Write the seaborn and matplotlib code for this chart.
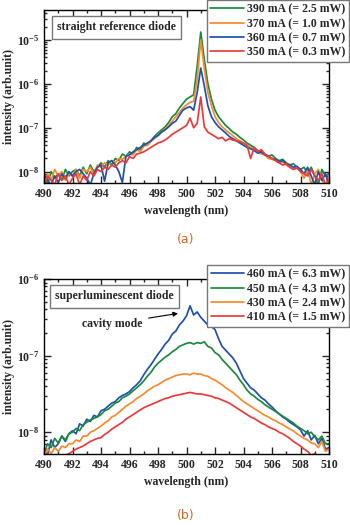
import numpy as np
import pandas as pd
import matplotlib
matplotlib.use("Agg")
import matplotlib.pyplot as plt
import seaborn as sns
from matplotlib.ticker import FuncFormatter, MultipleLocator, LogLocator

# wavelength grid (nm), 0.25 nm steps from 490 to 510
wavelength = np.arange(490.0, 510.001, 0.25)

# ---- panel (a): straight reference diode, log10(intensity)
a_labels = ["390 mA (= 2.5 mW)", "370 mA (= 1.0 mW)", "360 mA (= 0.7 mW)", "350 mA (= 0.3 mW)"]
a_390 = [-8.1, -8.3, -8.0, -8.15, -8.05, -8.2, -7.95, -8.1,
         -8.0, -7.95, -8.1, -7.9, -8.05, -7.85, -8.0, -7.9,
         -7.8, -7.9, -7.75, -7.85, -7.7, -7.75, -7.6, -7.65,
         -7.55, -7.6, -7.45, -7.5, -7.35, -7.4, -7.3, -7.2,
         -7.12, -7.05, -6.98, -6.88, -6.75, -6.68, -6.55, -6.45,
         -6.35, -6.3, -6.25, -5.6, -4.82, -5.45, -6.0, -6.35,
         -6.6, -6.75, -6.85, -6.95, -7.02, -7.1, -7.15, -7.22,
         -7.28, -7.35, -7.4, -7.45, -7.52, -7.55, -7.6, -7.65,
         -7.62, -7.7, -7.75, -7.72, -7.8, -7.85, -7.82, -7.9,
         -7.95, -7.9, -8.05, -7.9, -8.1, -8.3, -7.95, -8.1,
         -8.05]
a_370 = [-8.3, -8.05, -8.2, -7.95, -8.1, -8.0, -8.2, -8.05,
         -8.1, -7.95, -8.15, -7.95, -8.0, -7.9, -8.05, -7.85,
         -7.9, -7.8, -7.85, -7.75, -7.8, -7.7, -7.72, -7.65,
         -7.6, -7.62, -7.5, -7.55, -7.42, -7.4, -7.32, -7.25,
         -7.18, -7.1, -7.02, -6.95, -6.85, -6.75, -6.65, -6.55,
         -6.48, -6.42, -6.4, -5.9, -5.0, -5.65, -6.2, -6.5,
         -6.75, -6.88, -6.98, -7.05, -7.12, -7.18, -7.25, -7.3,
         -7.35, -7.4, -7.45, -7.5, -7.55, -7.6, -7.62, -7.7,
         -7.72, -7.75, -7.8, -7.78, -7.85, -7.9, -7.95, -7.9,
         -8.0, -8.15, -7.95, -8.3, -8.05, -7.95, -8.2, -8.3,
         -8.1]
a_360 = [-8.05, -8.2, -8.3, -8.1, -8.25, -8.05, -8.15, -8.0,
         -8.1, -8.0, -7.95, -8.05, -8.15, -8.3, -8.05, -7.9,
         -7.85, -8.22, -7.8, -7.75, -7.85, -8.0, -8.25, -7.65,
         -7.62, -7.55, -7.5, -7.45, -7.4, -7.35, -7.3, -7.22,
         -7.18, -7.1, -7.05, -6.98, -6.9, -6.85, -6.72, -6.6,
         -6.55, -6.52, -6.6, -6.2, -5.64, -6.05, -6.5, -6.75,
         -6.88, -6.98, -7.05, -7.12, -7.2, -7.25, -7.3, -7.35,
         -7.4, -7.45, -7.48, -7.52, -7.58, -7.55, -7.62, -7.65,
         -7.7, -7.72, -7.78, -7.75, -7.82, -7.85, -7.9, -7.88,
         -7.95, -8.05, -7.9, -8.1, -8.3, -8.0, -8.2, -8.05,
         -8.3]
a_350 = [-8.3, -8.1, -8.2, -8.3, -8.05, -8.2, -8.1, -8.3,
         -8.15, -8.05, -8.3, -8.1, -8.2, -8.0, -8.1, -7.95,
         -8.0, -7.9, -7.95, -7.85, -7.9, -7.8, -7.75, -7.8,
         -7.66, -7.7, -7.6, -7.58, -7.55, -7.5, -7.45, -7.4,
         -7.35, -7.32, -7.28, -7.22, -7.15, -7.1, -7.05, -7.0,
         -6.95, -6.78, -7.0, -6.9, -6.3, -6.98, -7.1, -7.15,
         -7.2, -7.25, -7.22, -7.3, -7.25, -7.28, -7.3, -7.32,
         -7.35, -7.4, -7.7, -7.45, -7.55, -7.5, -7.6, -7.65,
         -7.7, -7.75, -7.8, -7.85, -7.82, -7.9, -7.95, -7.92,
         -8.0, -8.05, -8.1, -7.95, -8.1, -8.2, -8.05, -8.3,
         -8.2]

# ---- panel (b): superluminescent diode
b_labels = ["460 mA (= 6.3 mW)", "450 mA (= 4.3 mW)", "430 mA (= 2.4 mW)", "410 mA (= 1.5 mW)"]
b_460 = [-8.22, -8.3, -8.1, -8.2, -8.15, -8.05, -8.12, -8.02,
         -7.98, -8.02, -7.89, -7.92, -7.83, -7.86, -7.78, -7.8,
         -7.72, -7.7, -7.66, -7.62, -7.6, -7.55, -7.52, -7.5,
         -7.47, -7.42, -7.38, -7.33, -7.25, -7.18, -7.12, -7.05,
         -6.98, -6.92, -6.85, -6.8, -6.72, -6.68, -6.6, -6.55,
         -6.48, -6.35, -6.47, -6.43, -6.5, -6.55, -6.6, -6.62,
         -6.66, -6.78, -6.88, -6.93, -6.98, -7.03, -7.1, -7.2,
         -7.3, -7.36, -7.42, -7.45, -7.5, -7.55, -7.58, -7.63,
         -7.67, -7.72, -7.76, -7.8, -7.83, -7.87, -7.9, -7.93,
         -7.97, -8.05, -7.98, -8.1, -8.04, -8.15, -8.08, -8.22,
         -8.2]
b_450 = [-8.28, -8.15, -8.2, -8.08, -8.14, -8.05, -8.1, -8.02,
         -8.0, -7.95, -7.98, -7.9, -7.87, -7.84, -7.82, -7.8,
         -7.77, -7.72, -7.7, -7.66, -7.62, -7.6, -7.55, -7.53,
         -7.5, -7.46, -7.42, -7.38, -7.33, -7.27, -7.22, -7.15,
         -7.1, -7.06, -7.02, -6.99, -6.95, -6.92, -6.88, -6.86,
         -6.84, -6.83, -6.85, -6.83, -6.84, -6.82, -6.88, -6.9,
         -6.96, -6.99, -7.05, -7.1, -7.15, -7.2, -7.25, -7.32,
         -7.38, -7.45, -7.5, -7.53, -7.57, -7.6, -7.64, -7.67,
         -7.7, -7.73, -7.76, -7.79, -7.82, -7.85, -7.88, -7.92,
         -7.95, -7.98, -8.02, -8.0, -8.06, -8.1, -8.05, -8.15,
         -8.15]
b_430 = [-8.32, -8.22, -8.28, -8.2, -8.25, -8.18, -8.2, -8.15,
         -8.15, -8.1, -8.12, -8.05, -8.05, -8.0, -7.98, -7.95,
         -7.92, -7.88, -7.85, -7.8, -7.78, -7.74, -7.7, -7.66,
         -7.63, -7.6, -7.56, -7.53, -7.5, -7.46, -7.43, -7.4,
         -7.38, -7.35, -7.32, -7.3, -7.28, -7.26, -7.25, -7.24,
         -7.24, -7.25, -7.23, -7.24, -7.24, -7.26, -7.27, -7.3,
         -7.32, -7.35, -7.38, -7.42, -7.45, -7.48, -7.52, -7.56,
         -7.6, -7.63, -7.66, -7.69, -7.72, -7.75, -7.78, -7.8,
         -7.83, -7.85, -7.88, -7.9, -7.93, -7.96, -7.98, -8.02,
         -8.05, -8.08, -8.1, -8.14, -8.15, -8.2, -8.12, -8.25,
         -8.22]
b_410 = [-8.4, -8.38, -8.35, -8.36, -8.35, -8.32, -8.3, -8.28,
         -8.25, -8.22, -8.2, -8.18, -8.15, -8.12, -8.1, -8.08,
         -8.07, -8.03, -8.0, -7.96, -7.93, -7.9, -7.87, -7.83,
         -7.8, -7.77, -7.74, -7.71, -7.68, -7.66, -7.64, -7.62,
         -7.6, -7.58, -7.56, -7.55, -7.53, -7.52, -7.51, -7.5,
         -7.49, -7.48, -7.49, -7.5, -7.5, -7.51, -7.52, -7.53,
         -7.55, -7.56, -7.58, -7.6, -7.62, -7.65, -7.68, -7.71,
         -7.74, -7.77, -7.8, -7.82, -7.85, -7.88, -7.9, -7.93,
         -7.95, -7.97, -8.0, -8.02, -8.05, -8.08, -8.12, -8.15,
         -8.18, -8.22, -8.25, -8.3, -8.28, -8.32, -8.3, -8.35,
         -8.35]

a_colors = ["#1b8a3c", "#f98a2c", "#2050b0", "#ec3a3a"]
b_colors = ["#2050b0", "#1b8a3c", "#f98a2c", "#ec3a3a"]

sns.set_style("ticks")
plt.rcParams["font.family"] = ["Liberation Serif", "DejaVu Serif"]
plt.rcParams["font.weight"] = "bold"
plt.rcParams["mathtext.fontset"] = "custom"
plt.rcParams["mathtext.rm"] = "Liberation Serif:bold"
plt.rcParams["mathtext.bf"] = "Liberation Serif:bold"
plt.rcParams["mathtext.default"] = "rm"


def make_df(series, labels):
    rows = []
    for vals, lab in zip(series, labels):
        rows.append(pd.DataFrame({"wavelength": wavelength,
                                  "intensity": 10.0 ** np.array(vals),
                                  "current": lab}))
    return pd.concat(rows, ignore_index=True)


def log_fmt(v, pos):
    e = int(round(np.log10(v)))
    return r"$10^{%d}$" % e


def style_axis(ax, ylim, yticks):
    ax.set_yscale("log")
    ax.set_xlim(490, 510)
    ax.set_ylim(*ylim)
    ax.xaxis.set_major_locator(MultipleLocator(2))
    ax.xaxis.set_minor_locator(MultipleLocator(1))
    ax.set_yticks(yticks)
    ax.yaxis.set_minor_locator(LogLocator(base=10, subs=np.arange(2, 10)))
    ax.yaxis.set_major_formatter(FuncFormatter(log_fmt))
    ax.tick_params(which="both", direction="in", top=True, right=True, labelsize=8.5, width=1)
    ax.tick_params(which="major", length=5)
    ax.tick_params(which="minor", length=2.5)
    for s in ax.spines.values():
        s.set_linewidth(1)
        s.set_color("black")
    ax.set_xlabel("wavelength (nm)", fontsize=8.5, fontweight="bold", labelpad=4)
    ax.set_ylabel("intensity (arb.unit)", fontsize=8.5, fontweight="bold")
    ax.yaxis.set_label_coords(-0.1, 0.5)


fig = plt.figure(figsize=(3.5, 5.25), dpi=100)
ax_a = fig.add_axes([44 / 350, 1 - 183 / 525, 285 / 350, 173 / 525])
ax_b = fig.add_axes([44 / 350, 1 - 454 / 525, 285 / 350, 175 / 525])

df_a = make_df([a_390, a_370, a_360, a_350], a_labels)
sns.lineplot(data=df_a, x="wavelength", y="intensity", hue="current", hue_order=a_labels,
             palette=a_colors, linewidth=1.25, ax=ax_a)
style_axis(ax_a, (5.5e-9, 4.8e-5), [1e-8, 1e-7, 1e-6, 1e-5])

df_b = make_df([b_460, b_450, b_430, b_410], b_labels)
sns.lineplot(data=df_b, x="wavelength", y="intensity", hue="current", hue_order=b_labels,
             palette=b_colors, linewidth=1.25, ax=ax_b)
style_axis(ax_b, (5.2e-9, 1e-6), [1e-8, 1e-7, 1e-6])

for ax, top in [(ax_a, 1.0), (ax_b, 1 - 265 / 525)]:
    h, l = ax.get_legend_handles_labels()
    ax.legend(h, l, loc="upper right", bbox_to_anchor=(349 / 350, top), bbox_transform=fig.transFigure,
              fontsize=8.5, handlelength=2.8, handletextpad=0.3, labelspacing=0.2, borderpad=0.3,
              borderaxespad=0, fancybox=False, edgecolor="#777777", framealpha=1)

box = dict(boxstyle="square,pad=0.45", facecolor="white", edgecolor="#777777", linewidth=1)
ax_a.text(0.045, 0.9, "straight reference diode", transform=ax_a.transAxes, fontsize=8.5,
          fontweight="bold", va="center", ha="left", bbox=box)
ax_b.text(0.04, 0.9, "superluminescent diode", transform=ax_b.transAxes, fontsize=8.5,
          fontweight="bold", va="center", ha="left", bbox=box)
ax_b.annotate("cavity mode", xy=(499.6, 3.6e-7), xytext=(494.8, 2.6e-7), fontsize=8.5,
              fontweight="bold", ha="center", va="center",
              arrowprops=dict(arrowstyle="-|>", color="black", lw=0.8, mutation_scale=7))

fig.text(186 / 350, 1 - 240 / 525, "(a)", color="#d06a2a", fontsize=9, fontweight="normal",
         family="DejaVu Sans", ha="center", va="center")
fig.text(186 / 350, 1 - 515 / 525, "(b)", color="#d06a2a", fontsize=9, fontweight="normal",
         family="DejaVu Sans", ha="center", va="center")

fig.savefig("out.png", dpi=100)
